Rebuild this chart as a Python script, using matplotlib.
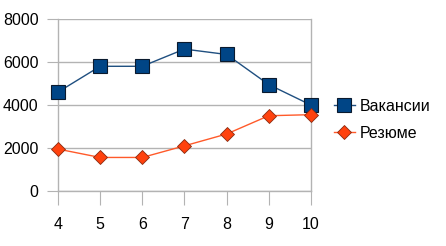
import matplotlib
matplotlib.use("Agg")
import matplotlib.pyplot as plt

months = [4, 5, 6, 7, 8, 9, 10]
vacancies = [4600, 5800, 5800, 6600, 6350, 4950, 4000]
resumes = [1950, 1560, 1560, 2100, 2650, 3500, 3550]
yticks = [0, 2000, 4000, 6000, 8000]

plt.rcParams['font.family'] = ['Liberation Sans', 'DejaVu Sans']

fig = plt.figure(figsize=(4.46, 2.46), dpi=100)
ax = fig.add_axes([0.130, 0.2236, 0.567, 0.6992])

grid_c = '#b3b3b3'
ax.plot(months, vacancies, color='#1f4f80', lw=1, marker='s', markersize=10,
        markerfacecolor='#004586', markeredgecolor='#0a1a2e', markeredgewidth=0.8,
        label='Вакансии', clip_on=False, zorder=3)
ax.plot(months, resumes, color='#ff5a2a', lw=1, marker='D', markersize=7,
        markerfacecolor='#ff420e', markeredgecolor='#8a2a10', markeredgewidth=0.6,
        label='Резюме', clip_on=False, zorder=3)

ax.set_xlim(4, 10)
ax.set_ylim(0, 8000)
ax.set_xticks(months)
ax.set_yticks(yticks)
ax.yaxis.grid(True, color=grid_c, lw=1)
ax.set_axisbelow(True)

ax.spines['top'].set_visible(False)
for s in ['left', 'right', 'bottom']:
    ax.spines[s].set_color(grid_c)
    ax.spines[s].set_linewidth(1)

ax.tick_params(axis='x', length=10, color=grid_c, labelsize=11.5, pad=9)
ax.tick_params(axis='y', length=8, color=grid_c, labelsize=11.5, pad=6)

ax.legend(loc='center left', bbox_to_anchor=(0.731, 0.512), bbox_transform=fig.transFigure,
          frameon=False, fontsize=11.5, handlelength=1.3, handletextpad=0.3,
          labelspacing=0.75, borderpad=0)

fig.savefig('out.png', dpi=100)
